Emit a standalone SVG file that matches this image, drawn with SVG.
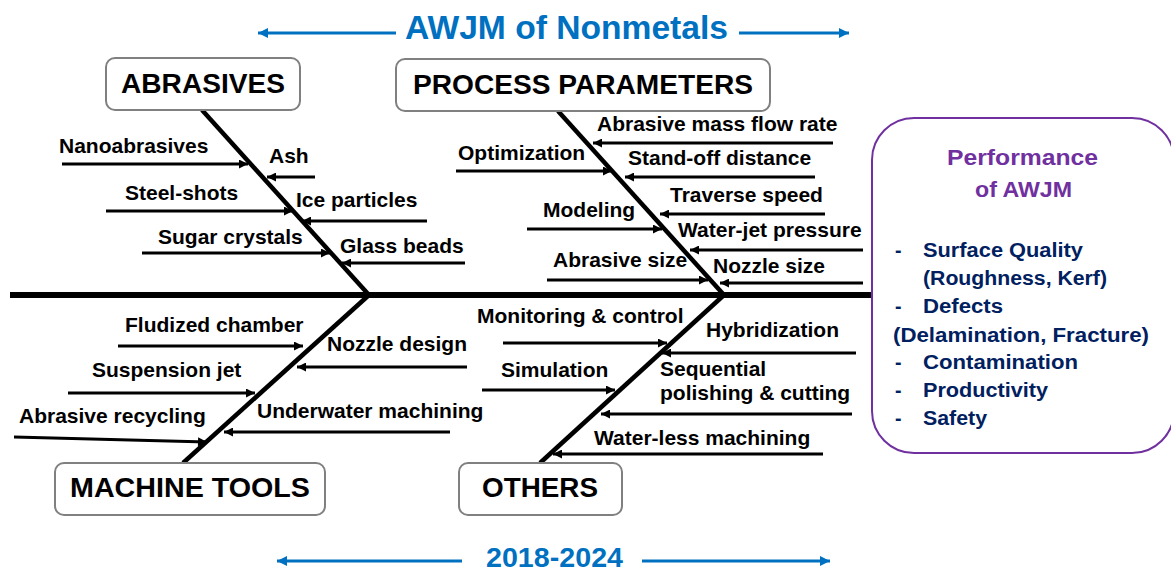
<svg xmlns="http://www.w3.org/2000/svg" width="1171" height="573" viewBox="0 0 1171 573">
<defs>
<style>
.lbl{font-family:"Liberation Sans",Arial,sans-serif;font-weight:bold;font-size:21px;fill:#000}
.hdr{font-family:"Liberation Sans",Arial,sans-serif;font-weight:bold;font-size:27px;fill:#000}
.box{fill:#fff;stroke:#808080;stroke-width:2}
.bone{stroke:#000;stroke-width:4.5;fill:none}
.arr{stroke:#000;stroke-width:3;fill:none;marker-end:url(#ah)}
.barr{stroke:#0070C0;stroke-width:3;fill:none;marker-end:url(#bh)}
.ttl{font-family:"Liberation Sans",Arial,sans-serif;font-weight:bold;fill:#0070C0}
.perf{font-family:"Liberation Sans",Arial,sans-serif;font-weight:bold;font-size:22px;fill:#7030A0}
.itm{font-family:"Liberation Sans",Arial,sans-serif;font-weight:bold;font-size:19.5px;fill:#002060}
</style>
<marker id="ah" viewBox="0 0 10 10" refX="10" refY="5" markerWidth="11" markerHeight="9" markerUnits="userSpaceOnUse" orient="auto"><path d="M0,0 L10,5 L0,10 z" fill="#000"/></marker>
<marker id="bh" viewBox="0 0 10 10" refX="10" refY="5" markerWidth="11" markerHeight="10" markerUnits="userSpaceOnUse" orient="auto"><path d="M0,0 L10,5 L0,10 z" fill="#0070C0"/></marker>
</defs>
<rect width="1171" height="573" fill="#fff"/>

<g id="title">
<line class="barr" x1="396" y1="33" x2="258" y2="33"/>
<line class="barr" x1="739" y1="33" x2="849" y2="33"/>
<text class="ttl" x="405" y="39" font-size="33" textLength="323" lengthAdjust="spacingAndGlyphs">AWJM of Nonmetals</text>
</g>
<g id="period">
<line class="barr" x1="462" y1="561" x2="277" y2="561"/>
<line class="barr" x1="642" y1="561" x2="830" y2="561"/>
<text class="ttl" x="486" y="567" font-size="27" textLength="137" lengthAdjust="spacingAndGlyphs">2018-2024</text>
</g>

<g id="connectors">
<line x1="10" y1="295" x2="872" y2="295" stroke="#000" stroke-width="6"/>
<line class="bone" x1="202" y1="110" x2="369" y2="295"/>
<line class="bone" x1="558" y1="111" x2="724" y2="295"/>
<line class="bone" x1="369" y1="295" x2="183" y2="463"/>
<line class="bone" x1="724" y1="295" x2="540" y2="463"/>
<!-- abrasives -->
<line class="arr" x1="62" y1="164" x2="248" y2="164"/>
<line class="arr" x1="315" y1="177" x2="267" y2="177"/>
<line class="arr" x1="106" y1="211" x2="293" y2="211"/>
<line class="arr" x1="427" y1="221" x2="302" y2="221"/>
<line class="arr" x1="142" y1="253" x2="330" y2="253"/>
<line class="arr" x1="465" y1="263" x2="342" y2="263"/>
<!-- process parameters -->
<line class="arr" x1="833" y1="143" x2="593" y2="143"/>
<line class="arr" x1="456" y1="171" x2="612" y2="171"/>
<line class="arr" x1="815" y1="177" x2="625" y2="177"/>
<line class="arr" x1="825" y1="214" x2="660" y2="214"/>
<line class="arr" x1="527" y1="229" x2="662" y2="229"/>
<line class="arr" x1="863" y1="250" x2="690" y2="250"/>
<line class="arr" x1="547" y1="280" x2="708" y2="280"/>
<line class="arr" x1="863" y1="283" x2="720" y2="283"/>
<!-- machine tools -->
<line class="arr" x1="118" y1="346" x2="303" y2="346"/>
<line class="arr" x1="467" y1="367" x2="297" y2="367"/>
<line class="arr" x1="68" y1="393" x2="255" y2="393"/>
<line class="arr" x1="14" y1="437" x2="207" y2="442"/>
<line class="arr" x1="450" y1="432" x2="224" y2="432"/>
<!-- others -->
<line class="arr" x1="503" y1="343" x2="667" y2="343"/>
<line class="arr" x1="856" y1="353" x2="662" y2="353"/>
<line class="arr" x1="482" y1="390" x2="615" y2="390"/>
<line class="arr" x1="852" y1="414" x2="601" y2="414"/>
<line class="arr" x1="823" y1="454" x2="553" y2="454"/>
</g>

<g id="abrasives">
<rect class="box" x="106" y="58" width="194" height="52" rx="9"/>
<text class="hdr" x="121" y="93" textLength="164" lengthAdjust="spacingAndGlyphs">ABRASIVES</text>
<text class="lbl" x="59" y="153">Nanoabrasives</text>
<text class="lbl" x="269" y="163">Ash</text>
<text class="lbl" x="125" y="200">Steel-shots</text>
<text class="lbl" x="296" y="207">Ice particles</text>
<text class="lbl" x="158" y="244">Sugar crystals</text>
<text class="lbl" x="340" y="253">Glass beads</text>
</g>

<g id="process-parameters">
<rect class="box" x="396" y="59" width="374" height="52" rx="9"/>
<text class="hdr" x="413" y="94" textLength="340" lengthAdjust="spacingAndGlyphs">PROCESS PARAMETERS</text>
<text class="lbl" x="597" y="131">Abrasive mass flow rate</text>
<text class="lbl" x="458" y="160">Optimization</text>
<text class="lbl" x="628" y="165">Stand-off distance</text>
<text class="lbl" x="670" y="202">Traverse speed</text>
<text class="lbl" x="543" y="217">Modeling</text>
<text class="lbl" x="678" y="237">Water-jet pressure</text>
<text class="lbl" x="553" y="267">Abrasive size</text>
<text class="lbl" x="713" y="273">Nozzle size</text>
</g>

<g id="machine-tools">
<rect class="box" x="55" y="463" width="270" height="52" rx="9"/>
<text class="hdr" x="70" y="497" textLength="240" lengthAdjust="spacingAndGlyphs">MACHINE TOOLS</text>
<text class="lbl" x="125" y="332">Fludized chamber</text>
<text class="lbl" x="327" y="351">Nozzle design</text>
<text class="lbl" x="92" y="377">Suspension jet</text>
<text class="lbl" x="19" y="423">Abrasive recycling</text>
<text class="lbl" x="257" y="418">Underwater machining</text>
</g>

<g id="others">
<rect class="box" x="459" y="463" width="163" height="52" rx="9"/>
<text class="hdr" x="482" y="497" textLength="116" lengthAdjust="spacingAndGlyphs">OTHERS</text>
<text class="lbl" x="477" y="323">Monitoring &amp; control</text>
<text class="lbl" x="706" y="337">Hybridization</text>
<text class="lbl" x="501" y="377">Simulation</text>
<text class="lbl" x="660" y="376">Sequential</text>
<text class="lbl" x="660" y="400">polishing &amp; cutting</text>
<text class="lbl" x="594" y="445">Water-less machining</text>
</g>

<g id="performance">
<rect x="872" y="118" width="302" height="335" rx="42" fill="#fff" stroke="#7030A0" stroke-width="2"/>
<text class="perf" x="947" y="165" textLength="151" lengthAdjust="spacingAndGlyphs">Performance</text>
<text class="perf" x="975" y="197" textLength="97" lengthAdjust="spacingAndGlyphs">of AWJM</text>
<text class="itm" x="895" y="257">-</text>
<text class="itm" x="923" y="257" textLength="160" lengthAdjust="spacingAndGlyphs">Surface Quality</text>
<text class="itm" x="923" y="285" textLength="184" lengthAdjust="spacingAndGlyphs">(Roughness, Kerf)</text>
<text class="itm" x="895" y="313">-</text>
<text class="itm" x="923" y="313" textLength="80" lengthAdjust="spacingAndGlyphs">Defects</text>
<text class="itm" x="893" y="342" textLength="256" lengthAdjust="spacingAndGlyphs">(Delamination, Fracture)</text>
<text class="itm" x="895" y="369">-</text>
<text class="itm" x="923" y="369" textLength="155" lengthAdjust="spacingAndGlyphs">Contamination</text>
<text class="itm" x="895" y="397">-</text>
<text class="itm" x="923" y="397" textLength="125" lengthAdjust="spacingAndGlyphs">Productivity</text>
<text class="itm" x="895" y="425">-</text>
<text class="itm" x="923" y="425" textLength="64" lengthAdjust="spacingAndGlyphs">Safety</text>
</g>
</svg>
